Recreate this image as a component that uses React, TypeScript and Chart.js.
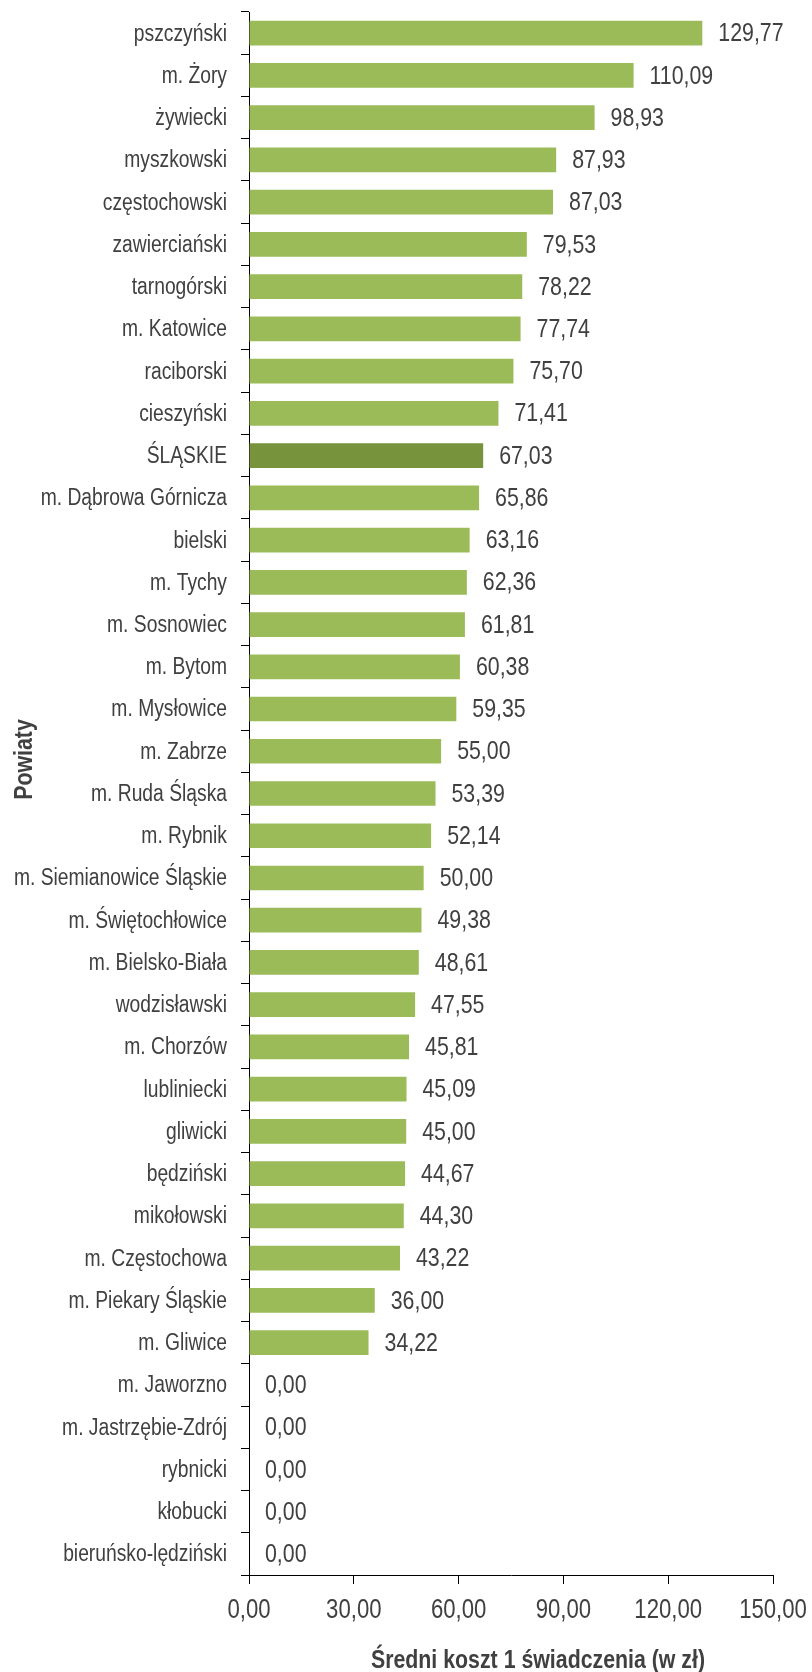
import React, { useEffect, useRef } from "react";
import { Chart, registerables } from "chart.js";

Chart.register(...registerables);

const categories: string[] = [
  "pszczyński",
  "m. Żory",
  "żywiecki",
  "myszkowski",
  "częstochowski",
  "zawierciański",
  "tarnogórski",
  "m. Katowice",
  "raciborski",
  "cieszyński",
  "ŚLĄSKIE",
  "m. Dąbrowa Górnicza",
  "bielski",
  "m. Tychy",
  "m. Sosnowiec",
  "m. Bytom",
  "m. Mysłowice",
  "m. Zabrze",
  "m. Ruda Śląska",
  "m. Rybnik",
  "m. Siemianowice Śląskie",
  "m. Świętochłowice",
  "m. Bielsko-Biała",
  "wodzisławski",
  "m. Chorzów",
  "lubliniecki",
  "gliwicki",
  "będziński",
  "mikołowski",
  "m. Częstochowa",
  "m. Piekary Śląskie",
  "m. Gliwice",
  "m. Jaworzno",
  "m. Jastrzębie-Zdrój",
  "rybnicki",
  "kłobucki",
  "bieruńsko-lędziński",
];

const values: number[] = [
  129.77, 110.09, 98.93, 87.93, 87.03, 79.53, 78.22, 77.74, 75.7, 71.41,
  67.03, 65.86, 63.16, 62.36, 61.81, 60.38, 59.35, 55.0, 53.39, 52.14,
  50.0, 49.38, 48.61, 47.55, 45.81, 45.09, 45.0, 44.67, 44.3, 43.22,
  36.0, 34.22, 0, 0, 0, 0, 0,
];

const highlightCategory = "ŚLĄSKIE";
const xTickValues: number[] = [0, 30, 60, 90, 120, 150];
const xAxisTitle = "Średni koszt 1 świadczenia (w zł)";
const yAxisTitle = "Powiaty";

const FONT = '"Liberation Sans", Arial, sans-serif';
const NARROW = 0.82;
const TEXT = "#404040";
const BAR = "#9BBB59";
const BAR_HL = "#77933C";

const fmt = (v: number) => v.toFixed(2).replace(".", ",");

function drawNarrow(ctx: any, text: string, x: number, y: number, align: string, font: string, rot = 0) {
  ctx.save();
  ctx.translate(x, y);
  if (rot) ctx.rotate(rot);
  ctx.scale(NARROW, 1);
  ctx.font = font;
  ctx.textAlign = align;
  ctx.textBaseline = "middle";
  ctx.fillStyle = TEXT;
  ctx.fillText(text, 0, 0);
  ctx.restore();
}

const overlayPlugin = {
  id: "overlay",
  afterDatasetsDraw(chart: any) {
    const ctx = chart.ctx;
    const meta = chart.getDatasetMeta(0);
    meta.data.forEach((bar: any, i: number) => {
      drawNarrow(ctx, fmt(values[i]), bar.x + 16, bar.y + 1, "left", `26px ${FONT}`);
    });
  },
  afterDraw(chart: any) {
    const ctx = chart.ctx;
    const a = chart.chartArea;
    const xs = chart.scales.x;
    const ys = chart.scales.y;
    categories.forEach((c, i) => {
      drawNarrow(ctx, c, a.left - 8 - 14, ys.getPixelForTick(i) + 1, "right", `23.5px ${FONT}`);
    });
    xs.ticks.forEach((t: any, i: number) => {
      drawNarrow(ctx, fmt(t.value), xs.getPixelForTick(i), a.bottom + 36, "center", `27px ${FONT}`);
    });
    drawNarrow(ctx, xAxisTitle, (a.left + a.right) / 2 + 27, chart.height - 11, "center", `bold 26px ${FONT}`);
    drawNarrow(ctx, yAxisTitle, 24.5, (a.top + a.bottom) / 2 - 34, "center", `bold 26px ${FONT}`, -Math.PI / 2);
  },
};

export default function App() {
  const ref = useRef<HTMLCanvasElement | null>(null);

  useEffect(() => {
    if (!ref.current) return;
    const chart = new Chart(ref.current, {
      type: "bar",
      data: {
        labels: categories,
        datasets: [
          {
            data: values,
            backgroundColor: categories.map((c) => (c === highlightCategory ? BAR_HL : BAR)),
            borderWidth: 0,
            categoryPercentage: 1,
            barPercentage: 0.585,
          },
        ],
      },
      options: {
        indexAxis: "y",
        animation: false,
        responsive: false,
        maintainAspectRatio: false,
        layout: { padding: { top: 12, right: 39, left: 0, bottom: 0 } },
        plugins: {
          legend: { display: false },
          tooltip: { enabled: false },
        },
        scales: {
          x: {
            min: 0,
            max: 150,
            afterBuildTicks(scale: any) {
              scale.ticks = xTickValues.map((v) => ({ value: v }));
            },
            afterFit(scale: any) {
              scale.height = 97;
            },
            grid: {
              drawOnChartArea: false,
              drawTicks: true,
              tickLength: 9,
              color: "#000",
            },
            border: { display: true, color: "#000", width: 1 },
            ticks: { display: false },
          },
          y: {
            afterFit(scale: any) {
              scale.width = 249;
            },
            grid: {
              drawOnChartArea: false,
              drawTicks: true,
              tickLength: 8,
              color: "#000",
              offset: true,
            },
            border: { display: true, color: "#000", width: 1 },
            ticks: { display: false, autoSkip: false },
          },
        },
      },
      plugins: [overlayPlugin],
    });
    return () => chart.destroy();
  }, []);

  return (
    <div style={{ position: "fixed", left: 0, top: 0, width: 812, height: 1672, background: "#fff" }}>
      <canvas ref={ref} width={812} height={1672} style={{ width: 812, height: 1672, display: "block" }} />
    </div>
  );
}
